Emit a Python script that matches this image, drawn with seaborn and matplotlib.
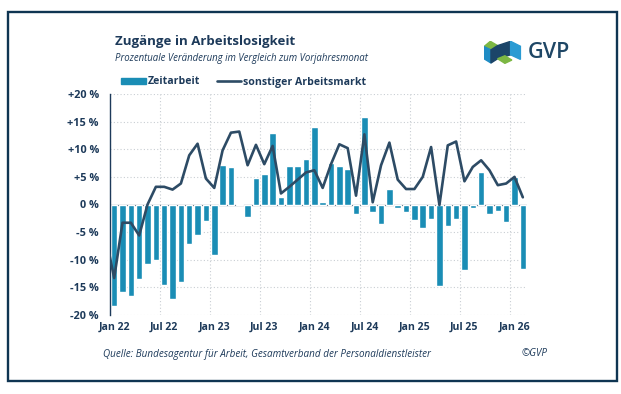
import numpy as np
import pandas as pd
import matplotlib
matplotlib.use("Agg")
import matplotlib.pyplot as plt
from matplotlib.patches import Rectangle, Polygon
from matplotlib.lines import Line2D
import seaborn as sns

# ── data: monthly change vs. previous-year month (%) ─────────
# line starts one month before the axis (Dec 21), so it enters clipped
monate = ["Dez 21"] + [f"{m} {y}" for y in range(22, 27)
                       for m in ["Jan", "Feb", "Mär", "Apr", "Mai", "Jun",
                                 "Jul", "Aug", "Sep", "Okt", "Nov", "Dez"]][:50]
zeitarbeit = [np.nan,
              -18.3, -15.9, -16.5, -13.5, -10.7, -10.1, -14.5, -17.1, -14.0, -7.2, -5.5, -3.0,
              -9.1, 7.1, 6.7, 0.1, -2.3, 4.8, 5.5, 12.9, 1.4, 6.9, 7.0, 8.3,
              14.1, 0.5, 7.6, 6.9, 6.4, -1.8, 15.9, -1.4, -3.5, 2.8, -0.7, -1.3,
              -2.8, -4.2, -2.6, -14.8, -3.9, -2.6, -11.9, -0.6, 5.9, -1.8, -1.2, -3.1,
              5.0, -11.6]
sonstige = [-5.9,
            -13.3, -3.3, -3.3, -5.6, 0.0, 3.2, 3.2, 2.7, 3.8, 8.9, 11.0, 4.7,
            3.0, 9.8, 13.0, 13.2, 7.1, 10.8, 7.3, 10.6, 2.0, 3.2, 4.5, 5.8,
            6.2, 3.0, 7.3, 10.9, 10.2, 1.6, 12.7, 0.4, 7.1, 11.2, 4.5, 2.8,
            2.8, 5.0, 10.4, -0.1, 10.7, 11.4, 4.2, 6.8, 8.0, 6.2, 3.5, 3.8,
            5.0, 1.3]
tick_labels = ["Jan 22", "Jul 22", "Jan 23", "Jul 23", "Jan 24",
               "Jul 24", "Jan 25", "Jul 25", "Jan 26"]
y_ticks = [20, 15, 10, 5, 0, -5, -10, -15, -20]

BAR = "#1a8db5"
LINE = "#2d4b65"
TXT = "#1d3a5a"
GRID = "#c9ced3"

df = pd.DataFrame({"monat": monate, "zeitarbeit": zeitarbeit, "sonstige": sonstige})
df["pos"] = np.arange(len(df)) - 1          # Jan 22 -> 0

sns.set_style("white")
plt.rcParams["font.family"] = ["Open Sans", "DejaVu Sans"]

fig = plt.figure(figsize=(6.21, 3.94), dpi=100)
ax = fig.add_axes([110 / 621, 1 - 315 / 394, 417 / 621, 221 / 394])

sns.barplot(data=df.dropna(subset=["zeitarbeit"]), x="pos", y="zeitarbeit",
            native_scale=True, width=0.78, color=BAR, saturation=1,
            errorbar=None, ax=ax, zorder=2, label="Zeitarbeit")
sns.lineplot(data=df, x="pos", y="sonstige", color=LINE, lw=1.9,
             ax=ax, zorder=3, label="sonstiger Arbeitsmarkt")

ax.set_xlim(-0.5, 49.5)
ax.set_ylim(-20, 20)
ax.set_xlabel(""); ax.set_ylabel("")

# grid: dotted, vertical lines on half-year boundaries
ax.set_yticks(y_ticks)
ax.set_yticklabels([f"+{v} %" if v > 0 else f"{v} %" for v in y_ticks])
ax.set_xticks(np.arange(0, 49, 6))
ax.set_xticklabels(tick_labels)
ax.set_xticks(np.arange(-0.5, 49, 6), minor=True)
ax.grid(True, axis="y", ls=(0, (1, 2)), color=GRID, lw=0.8, zorder=0)
ax.grid(True, axis="x", which="minor", ls=(0, (1, 2)), color=GRID, lw=0.8, zorder=0)
ax.axhline(0, color="#4f6478", lw=0.9, zorder=1)

for s in ["top", "right", "bottom"]:
    ax.spines[s].set_visible(False)
ax.spines["left"].set_color(TXT)
ax.spines["left"].set_linewidth(1.0)
ax.tick_params(axis="y", length=3, width=1.0, color=TXT, pad=5,
               labelsize=7.8, labelcolor=TXT)
ax.tick_params(axis="x", which="both", length=0, pad=5, labelsize=7.6, labelcolor=TXT)
for t in ax.get_xticklabels() + ax.get_yticklabels():
    t.set_fontweight("bold")

# legend above the plot
h = [Rectangle((0, 0), 1, 1, color=BAR), Line2D([], [], color=LINE, lw=1.9)]
ax.legend(h, ["Zeitarbeit", "sonstiger Arbeitsmarkt"], ncol=2, frameon=False,
          loc="center left", bbox_to_anchor=(116 / 621, 1 - 82 / 394),
          bbox_transform=fig.transFigure, handlelength=2.3, handleheight=0.45,
          handletextpad=0.2, columnspacing=1.6, borderpad=0,
          prop={"size": 7.6, "weight": "bold"}, labelcolor=TXT)

# titles and source
fig.text(115 / 621, 1 - 42 / 394, "Zugänge in Arbeitslosigkeit", fontsize=9.5,
         fontweight="bold", color=TXT, va="center")
fig.text(115 / 621, 1 - 58 / 394, "Prozentuale Veränderung im Vergleich zum Vorjahresmonat",
         fontsize=6.9, style="italic", color=TXT, va="center")
fig.text(103 / 621, 1 - 354 / 394,
         "Quelle: Bundesagentur für Arbeit, Gesamtverband der Personaldienstleister",
         fontsize=7.1, style="italic", color=TXT, va="center")
fig.text(522 / 621, 1 - 354 / 394, "©GVP", fontsize=7.1, style="italic",
         color=TXT, va="center")

# GVP logo (rough shapes) + wordmark
lg = fig.add_axes([484 / 621, 1 - 64 / 394, 38 / 621, 23 / 394])
lg.set_xlim(0, 12); lg.set_ylim(0, 7); lg.axis("off")
lg.add_patch(Polygon([(0, 5.3), (2, 6.9), (4.3, 5.6), (2.2, 4.3)], color="#7cb743"))
lg.add_patch(Polygon([(0, 5.3), (2.2, 4.3), (2.2, 0.3), (0, 1.6)], color="#1f8cc4"))
lg.add_patch(Polygon([(2.2, 4.3), (4.3, 5.6), (8.4, 6.9), (8.4, 2.8), (4.3, 1.6), (2.2, 0.3)],
                     color="#1b4569"))
lg.add_patch(Polygon([(8.4, 6.9), (11.5, 5.4), (11.5, 1.4), (8.4, 2.8)], color="#2a9bd3"))
lg.add_patch(Polygon([(4.3, 1.6), (6.6, 0.2), (8.8, 1.2), (6.6, 2.5)], color="#7cb743"))
fig.text(528 / 621, 1 - 52 / 394, "GVP", fontsize=15.5, fontweight="semibold",
         color="#1f4766", va="center")

# outer frame
fig.add_artist(Rectangle((8 / 621, 1 - 381 / 394), 609 / 621, 369 / 394,
                         transform=fig.transFigure, fill=False,
                         edgecolor="#0f3552", lw=1.7))

fig.savefig("out.png", dpi=100)
plt.close(fig)
